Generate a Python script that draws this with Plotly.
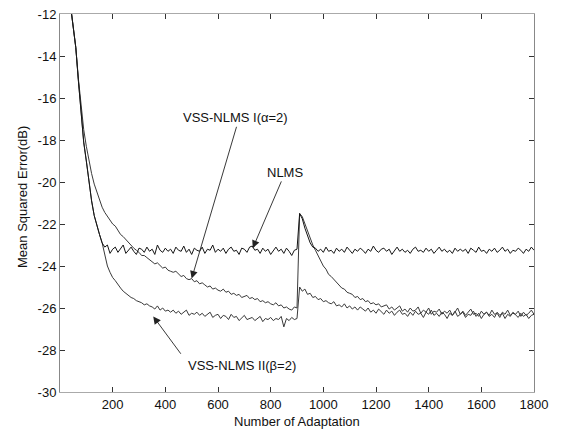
import plotly.graph_objects as go

# iteration index (every 10 adaptations)
n = list(range(30, 1801, 10))

nlms = [
    -10.6, -11.6, -12.5, -13.6, -15.2, -16.8, -18.1, -19.0, -20.0, -20.9,
    -21.6, -22.1, -22.5, -22.9, -23.1, -23.0, -23.4, -23.2, -23.1, -23.35,
    -23.2, -23.0, -23.4, -23.25, -23.1, -23.3, -23.45, -23.15, -23.2, -23.35,
    -23.1, -23.3, -23.2, -23.45, -23.0, -23.25, -23.35, -23.15, -23.3, -23.2,
    -23.4, -23.1, -23.25, -23.3, -23.05, -23.35, -23.2, -23.45, -23.15, -23.25,
    -23.3, -23.1, -23.4, -23.2, -23.25, -23.0, -23.35, -23.2, -23.3, -23.15,
    -23.4, -23.2, -23.1, -23.3, -23.25, -23.45, -23.15, -23.2, -23.35, -23.1,
    -23.05, -23.25, -23.2, -23.4, -23.15, -23.3, -23.2, -23.45, -23.25, -23.1,
    -23.3, -23.2, -23.4, -23.15, -23.3, -23.5, -23.25, -23.2, -21.5, -21.75,
    -22.2, -22.6, -22.9, -23.1, -23.15, -23.3, -23.2, -23.35, -23.1, -23.3,
    -23.25, -23.4, -23.15, -23.3, -23.2, -23.35, -23.1, -23.25, -23.4, -23.2,
    -23.3, -23.15, -23.25, -23.4, -23.2, -23.3, -23.05, -23.25, -23.35, -23.2,
    -23.15, -23.3, -23.2, -23.45, -23.25, -23.1, -23.3, -23.2, -23.35, -23.25,
    -23.4, -23.2, -23.1, -23.3, -23.25, -23.35, -23.15, -23.3, -23.2, -23.4,
    -23.25, -23.1, -23.3, -23.2, -23.35, -23.25, -23.4, -23.15, -23.3, -23.2,
    -23.3, -23.2, -23.4, -23.15, -23.25, -23.35, -23.1, -23.3, -23.25, -23.4,
    -23.2, -23.3, -23.15, -23.35, -23.25, -23.1, -23.3, -23.2, -23.4, -23.25,
    -23.3, -23.15, -23.25, -23.4, -23.2, -23.3, -23.1, -23.25,
]

vss1 = [
    -10.6, -11.6, -12.5, -13.6, -15.1, -16.5, -17.5, -18.3, -19.0, -19.6,
    -20.1, -20.5, -20.9, -21.2, -21.45, -21.65, -21.85, -22.0, -22.1, -22.3,
    -22.5, -22.6, -22.75, -22.9, -23.0, -23.15, -23.25, -23.35, -23.5, -23.5,
    -23.6, -23.7, -23.8, -23.9, -23.85, -24.0, -24.1, -24.05, -24.2, -24.25,
    -24.3, -24.25, -24.4, -24.5, -24.45, -24.6, -24.65, -24.6, -24.75, -24.7,
    -24.85, -24.8, -24.9, -25.0, -24.95, -25.1, -25.05, -25.15, -25.2, -25.1,
    -25.25, -25.2, -25.35, -25.3, -25.4, -25.35, -25.5, -25.45, -25.4, -25.55,
    -25.5, -25.6, -25.55, -25.7, -25.65, -25.75, -25.7, -25.8, -25.85, -25.75,
    -25.9, -25.85, -26.0, -25.95, -26.05, -26.1, -25.95, -26.0, -21.5, -21.65,
    -22.0, -22.4, -22.75, -23.0, -23.25, -23.5, -23.7, -24.0, -24.15, -24.4,
    -24.5, -24.65, -24.8, -24.9, -25.05, -25.1, -25.25, -25.3, -25.35, -25.5,
    -25.45, -25.6, -25.55, -25.7, -25.65, -25.8, -25.75, -25.85, -25.8, -25.95,
    -25.9, -25.85, -26.05, -25.95, -26.1, -26.0, -25.9, -26.15, -26.05, -26.2,
    -26.0, -26.15, -26.1, -25.95, -26.25, -26.1, -26.2, -26.0, -26.3, -26.15,
    -26.2, -26.05, -26.3, -26.15, -26.25, -26.1, -26.35, -26.2, -26.0, -26.3,
    -26.15, -26.35, -26.2, -26.05, -26.3, -26.25, -26.4, -26.15, -26.3, -26.2,
    -26.35, -26.1, -26.3, -26.25, -26.45, -26.2, -26.3, -26.1, -26.35, -26.25,
    -26.3, -26.15, -26.4, -26.2, -26.35, -26.25, -26.1, -26.3,
]

vss2 = [
    -10.6, -11.6, -12.5, -13.6, -15.2, -16.8, -18.1, -19.0, -20.0, -20.9,
    -21.6, -22.1, -22.5, -22.9, -23.5, -24.0, -24.3, -24.55, -24.7, -24.9,
    -25.05, -25.2, -25.3, -25.4, -25.5, -25.55, -25.65, -25.7, -25.75, -25.85,
    -25.8, -25.9, -25.95, -26.05, -25.9, -26.1, -26.0, -26.15, -26.1, -26.2,
    -26.1, -26.25, -26.15, -26.3, -26.2, -26.1, -26.35, -26.25, -26.3, -26.2,
    -26.35, -26.25, -26.4, -26.3, -26.2, -26.45, -26.35, -26.3, -26.5, -26.35,
    -26.4, -26.55, -26.3, -26.45, -26.4, -26.6, -26.45, -26.35, -26.55, -26.5,
    -26.45, -26.6, -26.5, -26.4, -26.65, -26.5, -26.55, -26.45, -26.6, -26.5,
    -26.55, -26.4, -26.9, -26.5, -26.6, -26.45, -26.55, -26.5, -25.0, -25.2,
    -25.1, -25.35, -25.3, -25.5, -25.45, -25.6, -25.55, -25.7, -25.65, -25.75,
    -25.8, -25.7, -25.9, -25.85, -25.95, -25.8, -26.0, -25.9, -26.05, -25.95,
    -26.1, -25.95, -26.05, -26.15, -26.0, -26.2, -26.1, -26.25, -26.05, -26.2,
    -26.3, -26.1, -26.25, -26.15, -26.35, -26.2, -26.1, -26.3, -26.25, -26.4,
    -26.2, -26.35, -26.15, -26.3, -26.25, -26.45, -26.2, -26.3, -26.1, -26.35,
    -26.25, -26.4, -26.2, -26.3, -26.5, -26.25, -26.35, -26.15, -26.4, -26.3,
    -26.2, -26.45, -26.3, -26.35, -26.15, -26.4, -26.25, -26.5, -26.3, -26.2,
    -26.4, -26.3, -26.45, -26.2, -26.35, -26.25, -26.5, -26.3, -26.4, -26.2,
    -26.35, -26.45, -26.25, -26.4, -26.3, -26.5, -26.35, -26.3,
]

x_ticks = [200, 400, 600, 800, 1000, 1200, 1400, 1600, 1800]
y_ticks = [-12, -14, -16, -18, -20, -22, -24, -26, -28, -30]

FONT = "Liberation Sans, Arial, sans-serif"

fig = go.Figure()
fig.add_trace(go.Scatter(x=n, y=vss2, mode="lines", line=dict(color="#3a3a3a", width=1), name="VSS-NLMS II"))
fig.add_trace(go.Scatter(x=n, y=vss1, mode="lines", line=dict(color="#3a3a3a", width=1), name="VSS-NLMS I"))
fig.add_trace(go.Scatter(x=n, y=nlms, mode="lines", line=dict(color="#151515", width=1), name="NLMS"))

# the page body has an 8px default margin, so margins compensate for it
fig.update_layout(
    width=562, height=432,
    margin=dict(l=52, r=36, t=6, b=48),
    paper_bgcolor="white", plot_bgcolor="white",
    showlegend=False,
    font=dict(family=FONT, size=13, color="#111"),
)
fig.update_xaxes(
    range=[0, 1800], tickvals=x_ticks, ticktext=[str(v) for v in x_ticks],
    ticks="inside", ticklen=5, tickcolor="#333", showgrid=False, zeroline=False,
    showline=True, linecolor="#aaa", linewidth=1, mirror="ticks", automargin=False,
    tickfont=dict(size=13), ticklabelstandoff=0, ticklabeloverflow="allow",
)
fig.update_yaxes(
    range=[-30, -12], tickvals=y_ticks, ticktext=[str(v) for v in y_ticks],
    ticks="inside", ticklen=5, tickcolor="#333", showgrid=False, zeroline=False,
    showline=True, linecolor="#888", linewidth=1, mirror="ticks", automargin=False,
    tickfont=dict(size=13), ticklabelstandoff=0, ticklabeloverflow="allow",
)

# arrows (tip -> tail in data coordinates)
arrows = [
    (500, -24.6, 672, -17.3),
    (732, -23.15, 843, -19.9),
    (354, -26.4, 463, -28.25),
]
for tx, ty, ax, ay in arrows:
    fig.add_annotation(x=tx, y=ty, ax=ax, ay=ay, axref="x", ayref="y", xref="x", yref="y",
                       text="", showarrow=True, arrowhead=2, arrowsize=1.7, arrowwidth=0.9,
                       arrowcolor="#222")

labels = [
    ("VSS-NLMS I(\u03b1=2)", 668, -16.95),
    ("NLMS", 854, -19.55),
    ("VSS-NLMS II(\u03b2=2)", 691, -28.75),
]
for t, lx, ly in labels:
    fig.add_annotation(x=lx, y=ly, xref="x", yref="y", text=t, showarrow=False,
                       font=dict(size=13, color="#111"))

fig.add_annotation(text="Number of Adaptation", xref="paper", yref="paper",
                   x=0.5, y=0, yshift=-29, xshift=0, showarrow=False, yanchor="middle",
                   font=dict(size=13, color="#111"))
fig.add_annotation(text="Mean Squared Error(dB)", xref="paper", yref="paper",
                   x=0, y=0.5, xshift=-38, yshift=6, textangle=-90, showarrow=False,
                   xanchor="center", font=dict(size=13, color="#111"))

fig.write_html("out.html")
